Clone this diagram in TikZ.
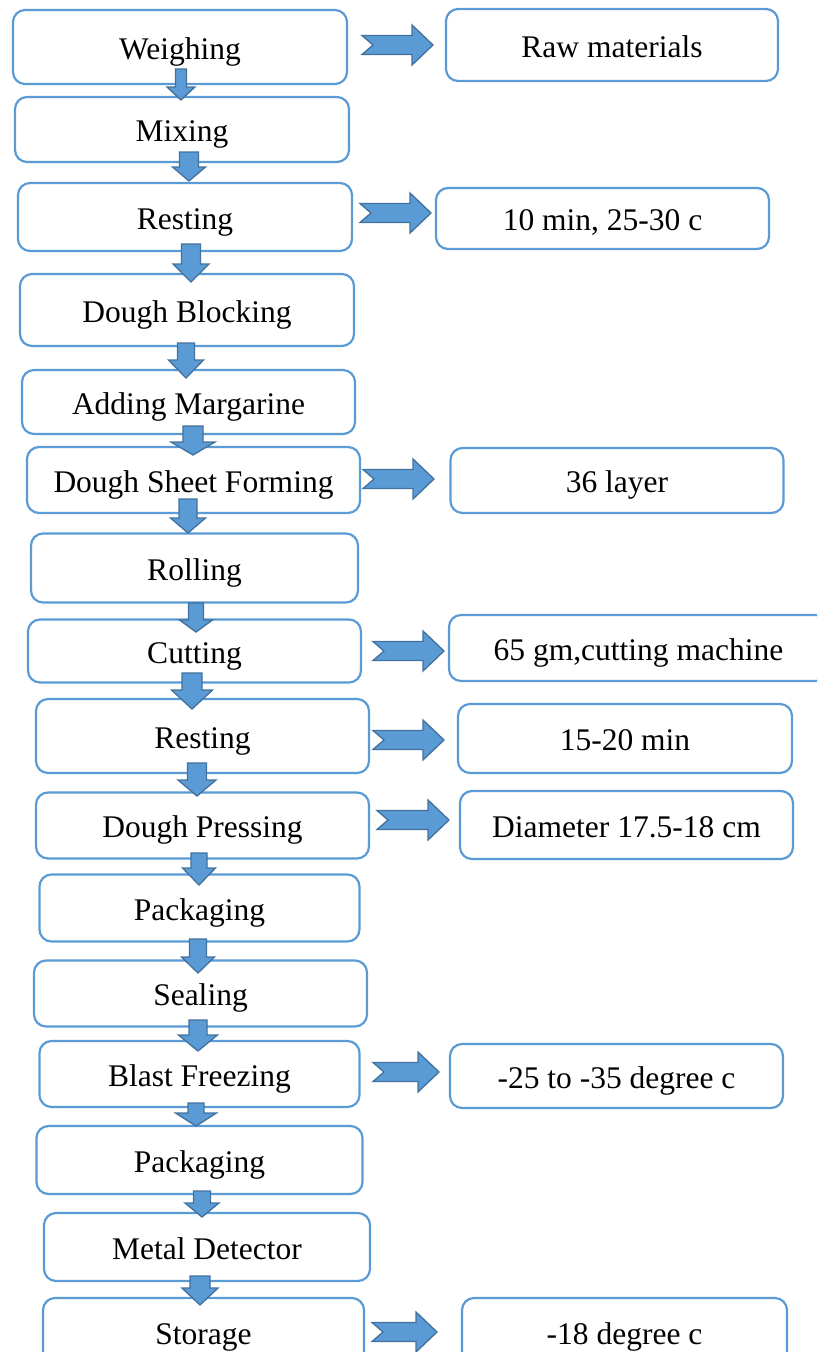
\documentclass[tikz,border=0pt]{standalone}
\usepackage{fontspec}
\setmainfont{Liberation Serif}
\definecolor{boxblue}{HTML}{5B9BD5}
\definecolor{arrfill}{HTML}{5B9BD5}
\definecolor{arrline}{HTML}{41719C}
\tikzset{
  box/.style={draw=boxblue, line width=2.2pt, rounded corners=12pt, fill=white,
    inner sep=0pt, text height=28pt, text depth=4pt,
    font=\fontsize{31.5}{36}\selectfont, text=black},
  blockarrow/.style={fill=arrfill, draw=arrline, line width=1.3pt, line join=miter},
}
% down arrow: cx, top, tip, body width, head width, head length
\newcommand\dnarr[6]{%
  \draw[blockarrow] ({#1-#4/2},#2) -- ({#1+#4/2},#2) -- ({#1+#4/2},{#3-#6})
    -- ({#1+#5/2},{#3-#6}) -- (#1,#3) -- ({#1-#5/2},{#3-#6}) -- ({#1-#4/2},{#3-#6}) -- cycle;}
% right notched arrow: tail x, tip x, centre y
\newcommand\rtarr[3]{%
  \draw[blockarrow] (#1,{#3-9.5}) -- ({#2-21},{#3-9.5}) -- ({#2-21},{#3-20}) -- (#2,#3)
    -- ({#2-21},{#3+20}) -- ({#2-21},{#3+9.5}) -- (#1,{#3+9.5}) -- ({#1+11},#3) -- cycle;}
\begin{document}
\begin{tikzpicture}[x=1pt,y=-1pt]
\useasboundingbox (0,0) rectangle (817,1352);
\clip (0,0) rectangle (817,1352);
% left column
\node[box, minimum width=334pt, minimum height=74pt] (b1) at (180,47) {Weighing};
\node[box, minimum width=334pt, minimum height=65pt] (b2) at (182,129.5) {Mixing};
\node[box, minimum width=334pt, minimum height=68pt] (b3) at (185,217) {Resting};
\node[box, minimum width=334pt, minimum height=72pt] (b4) at (187,310) {Dough Blocking};
\node[box, minimum width=333pt, minimum height=64pt] (b5) at (188.5,402) {Adding Margarine};
\node[box, minimum width=333pt, minimum height=66pt] (b6) at (193.5,480) {Dough Sheet Forming};
\node[box, minimum width=327pt, minimum height=69pt] (b7) at (194.5,568) {Rolling};
\node[box, minimum width=333pt, minimum height=63pt] (b8) at (194.5,651) {Cutting};
\node[box, minimum width=333pt, minimum height=74pt] (b9) at (202.5,736) {Resting};
\node[box, minimum width=333pt, minimum height=66pt] (b10) at (202.5,825.5) {Dough Pressing};
\node[box, minimum width=320pt, minimum height=67pt] (b11) at (199.5,908) {Packaging};
\node[box, minimum width=333pt, minimum height=66pt] (b12) at (200.5,993.5) {Sealing};
\node[box, minimum width=320pt, minimum height=66pt] (b13) at (199.5,1074) {Blast Freezing};
\node[box, minimum width=326pt, minimum height=68pt] (b14) at (199.5,1160) {Packaging};
\node[box, minimum width=326pt, minimum height=68pt] (b15) at (207,1247) {Metal Detector};
\node[box, minimum width=321pt, minimum height=68pt] (b16) at (203.5,1332) {Storage};
% right column
\node[box, minimum width=332pt, minimum height=72pt] (r1) at (612,45) {Raw materials};
\node[box, minimum width=333pt, minimum height=61pt] (r2) at (602.5,218.5) {10 min, 25-30 c};
\node[box, minimum width=333pt, minimum height=65pt] (r3) at (617,480.5) {36 layer};
\node[box, minimum width=379pt, minimum height=66pt] (r4) at (638.5,648) {65 gm,cutting machine};
\node[box, minimum width=334pt, minimum height=69pt] (r5) at (625,738.5) {15-20 min};
\node[box, minimum width=333pt, minimum height=68pt] (r6) at (626.5,825) {Diameter 17.5-18 cm};
\node[box, minimum width=333pt, minimum height=64pt] (r7) at (616.5,1076) {-25 to -35 degree c};
\node[box, minimum width=325pt, minimum height=68pt] (r8) at (624.5,1332) {-18 degree c};
% down arrows
\dnarr{181}{69}{100}{11}{28}{13}
\dnarr{189}{152}{181}{19}{33}{14}
\dnarr{191}{244}{282}{19}{36}{18}
\dnarr{186}{343}{378}{17}{35}{18}
\dnarr{193}{426}{455}{20}{44}{13}
\dnarr{188}{499}{533}{18}{35}{15}
\dnarr{196}{603}{632}{15}{33}{12}
\dnarr{192}{673}{709}{20}{41}{19}
\dnarr{197}{763}{796}{19}{38}{16}
\dnarr{199}{853}{885}{16}{33}{17}
\dnarr{198}{939}{973}{17}{33}{16}
\dnarr{198}{1020}{1051}{18}{39}{16}
\dnarr{196}{1103}{1126}{16}{41}{13}
\dnarr{202}{1191}{1217}{17}{34}{14}
\dnarr{200}{1276}{1305}{20}{36}{17}
% right arrows
\rtarr{362}{433}{45}
\rtarr{360}{431}{213}
\rtarr{363}{434}{479}
\rtarr{373}{444}{651}
\rtarr{373}{444}{740}
\rtarr{377}{449}{820}
\rtarr{373}{439}{1072}
\rtarr{372}{437}{1332}
\end{tikzpicture}
\end{document}
